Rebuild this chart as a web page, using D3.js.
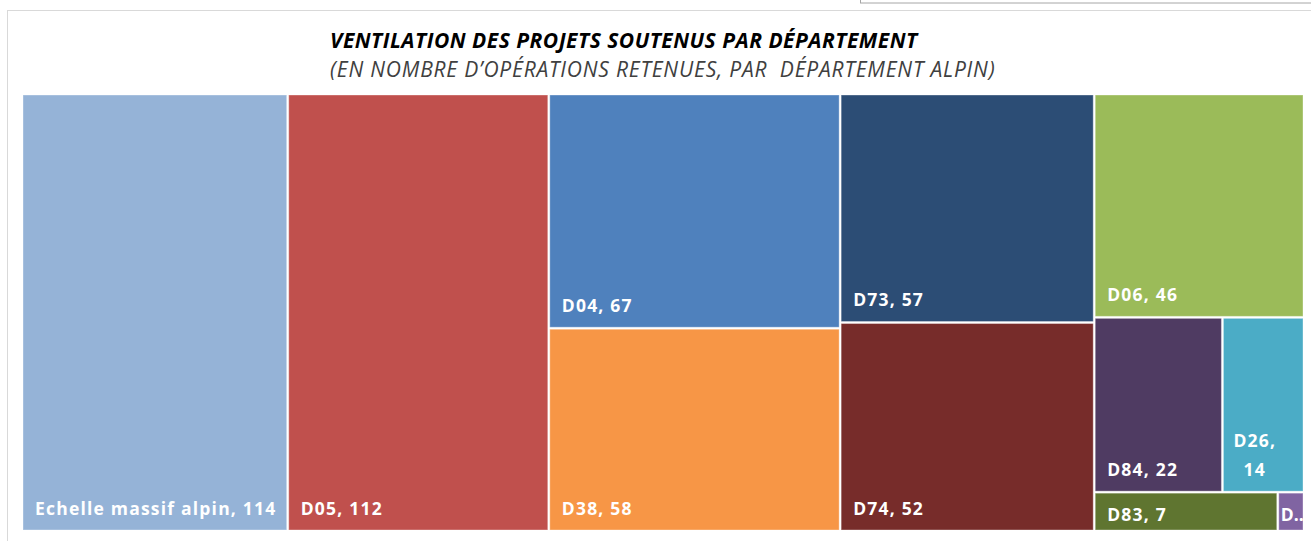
<!DOCTYPE html>
<html lang="fr">
<head>
  <meta charset="UTF-8">
  <title>Ventilation des projets soutenus par département</title>
  <script src="https://d3js.org/d3.v7.min.js"></script>
  <style>
    body { margin: 0; background: #fff; }
    svg { display: block; }
    .title { font-family: "Open Sans", Lato, sans-serif; font-weight: 700; font-style: italic; font-size: 21px; fill: #000; letter-spacing: 0.5px; }
    .subtitle { font-family: "Open Sans", Lato, sans-serif; font-style: italic; font-size: 21px; fill: #404040; white-space: pre; letter-spacing: 0.8px; }
    .cell-label { font-family: "Open Sans", Lato, sans-serif; font-weight: 700; font-size: 17.5px; fill: #fff; letter-spacing: 1.2px; }
  </style>
</head>
<body>
  <svg width="1311" height="541"></svg>

  <script>
    const width = 1311, height = 541;

    // Données du treemap (nombre d'opérations retenues)
    const names = ["Echelle massif alpin", "D05", "D04", "D38", "D73", "D74", "D06", "D84", "D26", "D83", "D13"];
    const counts = [114, 112, 67, 58, 57, 52, 46, 22, 14, 7, 1];
    const colours = ["#95B3D7", "#C0504D", "#4F81BD", "#F79646", "#2C4D75", "#772C2A", "#9BBB59", "#4F3B62", "#4BACC6", "#5F7530", "#8064A2"];

    const title = "VENTILATION DES PROJETS SOUTENUS PAR DÉPARTEMENT";
    const subtitle = "(EN NOMBRE D’OPÉRATIONS RETENUES, PAR  DÉPARTEMENT ALPIN)";

    const svg = d3.select("svg");

    // chart frame (partly cut off in the original screenshot)
    svg.append("rect")
      .attr("x", 7.5).attr("y", 10.5)
      .attr("width", 1320).attr("height", 560)
      .attr("fill", "#fff").attr("stroke", "#d9d9d9");
    svg.append("rect")
      .attr("x", 860.5).attr("y", -10)
      .attr("width", 470).attr("height", 13)
      .attr("fill", "#fff").attr("stroke", "#a6a6a6");

    svg.append("text").attr("class", "title")
      .attr("x", 330).attr("y", 48).text(title);
    svg.append("text").attr("class", "subtitle")
      .attr("x", 330).attr("y", 77).text(subtitle);

    // hierarchy
    const data = names.map((n, i) => ({ name: n, value: counts[i], colour: colours[i] }));
    const root = d3.hierarchy({ children: data })
      .sum(d => d.value || 0)
      .sort((a, b) => b.value - a.value);

    const mapW = 1280, mapH = 435;
    d3.treemap()
      .tile(d3.treemapSquarify.ratio(1.13))
      .size([mapW, mapH])
      .paddingInner(2)
      (root);

    const g = svg.append("g").attr("transform", "translate(23,95)");

    const cell = g.selectAll("g.cell")
      .data(root.leaves())
      .join("g")
      .attr("class", "cell");

    cell.append("rect")
      .attr("x", d => d.x0)
      .attr("y", d => d.y0)
      .attr("width", d => d.x1 - d.x0)
      .attr("height", d => d.y1 - d.y0)
      .attr("fill", d => d.data.colour)
      .attr("stroke", "#fff")
      .attr("stroke-opacity", 0.35)
      .attr("stroke-width", 1);

    // labels: bottom-left, wrap or truncate when they don't fit
    cell.each(function(d) {
      const w = d.x1 - d.x0, h = d.y1 - d.y0;
      const gEl = d3.select(this);
      const full = d.data.name + ", " + d.data.value;
      const inset = Math.min(15.5, h / 4);
      const t = gEl.append("text").attr("class", "cell-label")
        .attr("x", d.x0 + 12).attr("y", d.y1 - inset).text(full);
      if (t.node().getComputedTextLength() + 16 <= w) return;

      // try two lines, centred on each other
      const parts = [d.data.name + ",", String(d.data.value)];
      t.text(null);
      const tmp = parts.map(p => {
        t.text(p);
        return t.node().getComputedTextLength();
      });
      const maxW = Math.max(...tmp);
      if (maxW + 22 <= w && h > 70) {
        t.text(null);
        parts.forEach((p, i) => {
          t.append("tspan")
            .attr("x", d.x0 + 10 + (maxW - tmp[i]) / 2)
            .attr("y", d.y1 - inset - (parts.length - 1 - i) * 29)
            .text(p);
        });
        return;
      }

      // truncate
      let s = full;
      t.attr("x", d.x0 + 2).style("letter-spacing", "0px");
      while (s.length > 1) {
        s = s.slice(0, -1);
        t.text(s + "..");
        if (t.node().getComputedTextLength() + 2 <= w) break;
      }
    });
  </script>
</body>
</html>
